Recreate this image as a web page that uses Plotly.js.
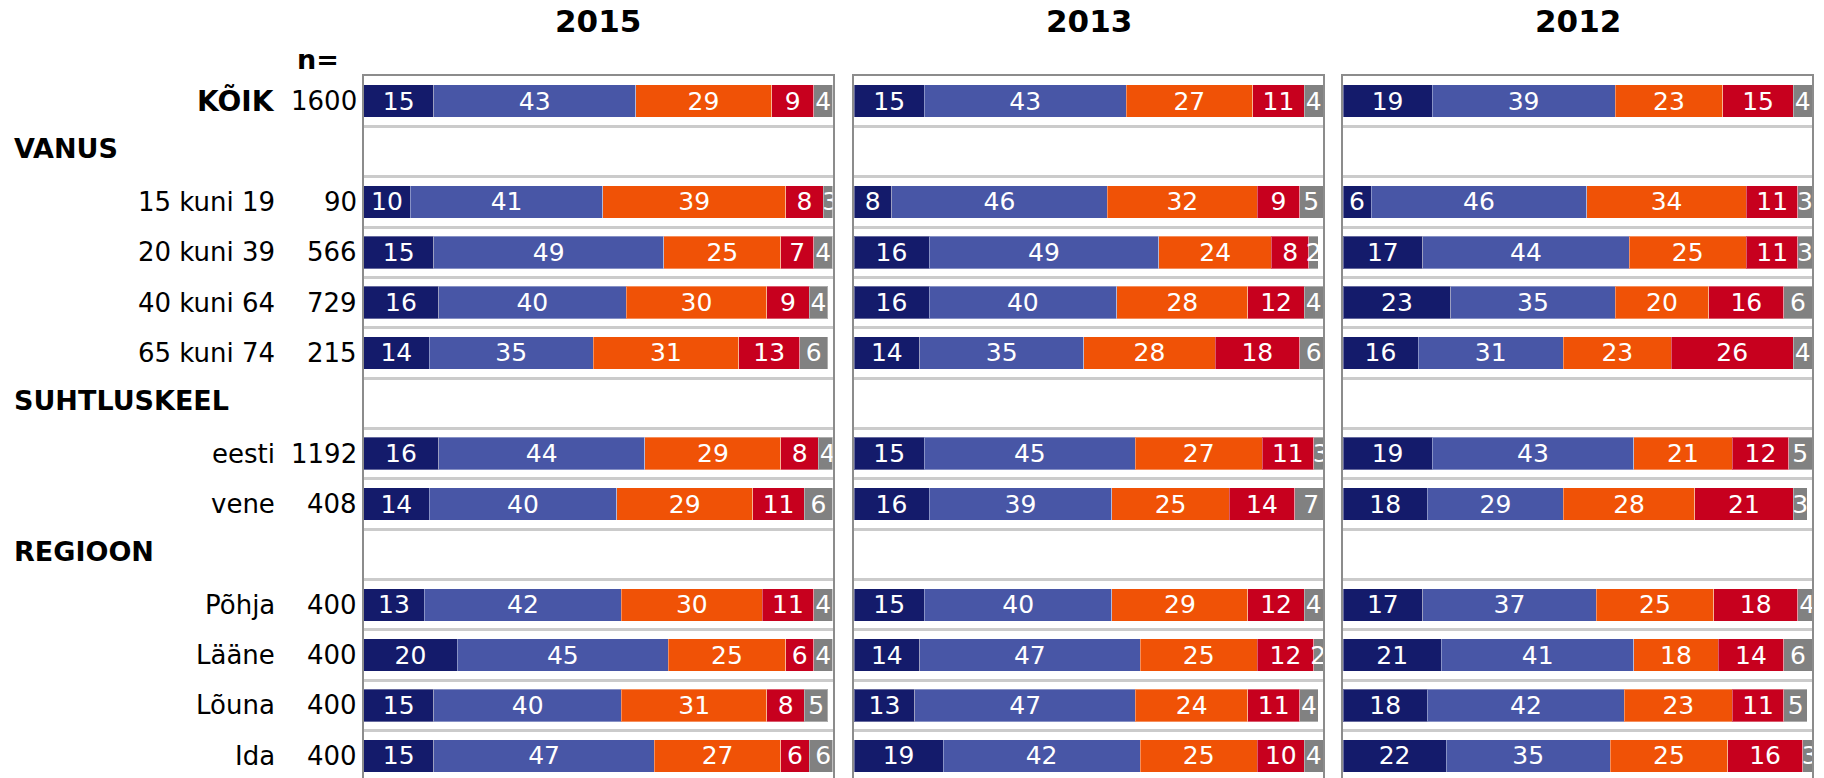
<!DOCTYPE html>
<html>
<head>
<meta charset="utf-8">
<script src="https://cdn.plot.ly/plotly-3.0.1.min.js"></script>
<style>html,body{margin:0;padding:0;background:#fff;}#chart{width:1824px;height:778px;}</style>
</head>
<body>
<div id="chart"></div>
<script>
// Row categories (top to bottom)
const rows = ["KÕIK","VANUS","15 kuni 19","20 kuni 39","40 kuni 64","65 kuni 74","SUHTLUSKEEL","eesti","vene","REGIOON","Põhja","Lääne","Lõuna","Ida"];
const headerRows = ["VANUS","SUHTLUSKEEL","REGIOON"];
const boldRows = ["KÕIK"];
const nValues = [1600,null,90,566,729,215,null,1192,408,null,400,400,400,400];
const years = ["2015","2013","2012"];
const seriesNames = ["1","2","3","4","5"];
const seriesColors = ["#141B6B","#4856A6","#F05206","#C7001E","#818181"];

// 2015
const y2015_s1 = [15,null,10,15,16,14,null,16,14,null,13,20,15,15];
const y2015_s2 = [43,null,41,49,40,35,null,44,40,null,42,45,40,47];
const y2015_s3 = [29,null,39,25,30,31,null,29,29,null,30,25,31,27];
const y2015_s4 = [9,null,8,7,9,13,null,8,11,null,11,6,8,6];
const y2015_s5 = [4,null,3,4,4,6,null,4,6,null,4,4,5,6];
// 2013
const y2013_s1 = [15,null,8,16,16,14,null,15,16,null,15,14,13,19];
const y2013_s2 = [43,null,46,49,40,35,null,45,39,null,40,47,47,42];
const y2013_s3 = [27,null,32,24,28,28,null,27,25,null,29,25,24,25];
const y2013_s4 = [11,null,9,8,12,18,null,11,14,null,12,12,11,10];
const y2013_s5 = [4,null,5,2,4,6,null,3,7,null,4,2,4,4];
// 2012
const y2012_s1 = [19,null,6,17,23,16,null,19,18,null,17,21,18,22];
const y2012_s2 = [39,null,46,44,35,31,null,43,29,null,37,41,42,35];
const y2012_s3 = [23,null,34,25,20,23,null,21,28,null,25,18,23,25];
const y2012_s4 = [15,null,11,11,16,26,null,12,21,null,18,14,11,16];
const y2012_s5 = [4,null,3,3,6,4,null,5,3,null,4,6,5,3];

const yearSeries = [
  [y2015_s1,y2015_s2,y2015_s3,y2015_s4,y2015_s5],
  [y2013_s1,y2013_s2,y2013_s3,y2013_s4,y2013_s5],
  [y2012_s1,y2012_s2,y2012_s3,y2012_s4,y2012_s5]
];

const FONT = "DejaVu Sans, Verdana, sans-serif";
const W = 1824, H = 778, TOP = 76;
const plotH = H - TOP;
const panelPx = [[363.5,832.5],[854,1323],[1343,1812]];

const traces = [];
yearSeries.forEach((ser, p) => {
  const sfx = p === 0 ? "" : String(p + 1);
  ser.forEach((vals, k) => {
    traces.push({
      type: "bar",
      orientation: "h",
      name: seriesNames[k],
      x: vals,
      y: rows,
      xaxis: "x" + sfx,
      yaxis: "y" + sfx,
      marker: {color: seriesColors[k], line: {color: "rgba(255,255,255,0.35)", width: 1}},
      text: vals.map(v => v === null ? "" : String(v)),
      texttemplate: "%{text}",
      textposition: "inside",
      insidetextanchor: "middle",
      constraintext: "none",
      textangle: 0,
      textfont: {family: FONT, size: 25, color: "#ffffff"},
      hoverinfo: "x+y",
      showlegend: false
    });
  });
});

const layout = {
  width: W, height: H,
  margin: {l: 0, r: 0, t: TOP, b: 0, pad: 0},
  barmode: "stack",
  bargap: 0.355,
  paper_bgcolor: "#ffffff",
  plot_bgcolor: "#ffffff",
  showlegend: false,
  font: {family: FONT, color: "#000000"},
  annotations: []
};

panelPx.forEach((px, p) => {
  const sfx = p === 0 ? "" : String(p + 1);
  layout["xaxis" + sfx] = {
    domain: [px[0] / W, px[1] / W],
    range: [0, 100],
    anchor: "y" + sfx,
    side: "top",
    showgrid: false, zeroline: false, showticklabels: false, ticks: "",
    showline: true, mirror: false, linecolor: "#8c8c8c", linewidth: 2,
    fixedrange: true
  };
  layout["yaxis" + sfx] = {
    domain: [0, 1],
    type: "category",
    categoryarray: rows,
    categoryorder: "array",
    range: [13.44, -0.5],
    autorange: false,
    anchor: "x" + sfx,
    showticklabels: false,
    ticks: "",
    tickson: "boundaries",
    showgrid: true, gridcolor: "#cbcbcb", gridwidth: 3,
    zeroline: false,
    showline: true, mirror: true, linecolor: "#8c8c8c", linewidth: 2,
    fixedrange: true
  };
  layout.annotations.push({
    xref: "x" + sfx + " domain", yref: "paper",
    x: 0.5, y: 1 + (TOP - 21) / plotH,
    xanchor: "center", yanchor: "middle",
    text: "<b>" + years[p] + "</b>",
    showarrow: false,
    font: {family: FONT, size: 31, color: "#000000"}
  });
});

layout.annotations.push({
  xref: "paper", yref: "paper",
  x: 318 / W, y: 1 + (TOP - 59) / plotH,
  xanchor: "center", yanchor: "middle",
  text: "<b>n=</b>", showarrow: false,
  font: {family: FONT, size: 27, color: "#000000"}
});

rows.forEach((r, i) => {
  if (headerRows.includes(r)) {
    layout.annotations.push({
      xref: "paper", yref: "y", x: 12 / W, y: r,
      xanchor: "left", yanchor: "middle", yshift: 3,
      text: "<b>" + r + "</b>", showarrow: false,
      font: {family: FONT, size: 27, color: "#000000"}
    });
  } else {
    const bold = boldRows.includes(r);
    layout.annotations.push({
      xref: "paper", yref: "y", x: 277 / W, y: r,
      xanchor: "right", yanchor: "middle",
      text: bold ? "<b>" + r + "</b>" : r, showarrow: false,
      font: {family: FONT, size: bold ? 28 : 26, color: "#000000"}
    });
  }
  if (nValues[i] !== null) {
    layout.annotations.push({
      xref: "paper", yref: "y", x: 359 / W, y: r,
      xanchor: "right", yanchor: "middle",
      text: String(nValues[i]), showarrow: false,
      font: {family: FONT, size: 26, color: "#000000"}
    });
  }
});

Plotly.newPlot("chart", traces, layout, {staticPlot: true, displayModeBar: false});
</script>
</body>
</html>
